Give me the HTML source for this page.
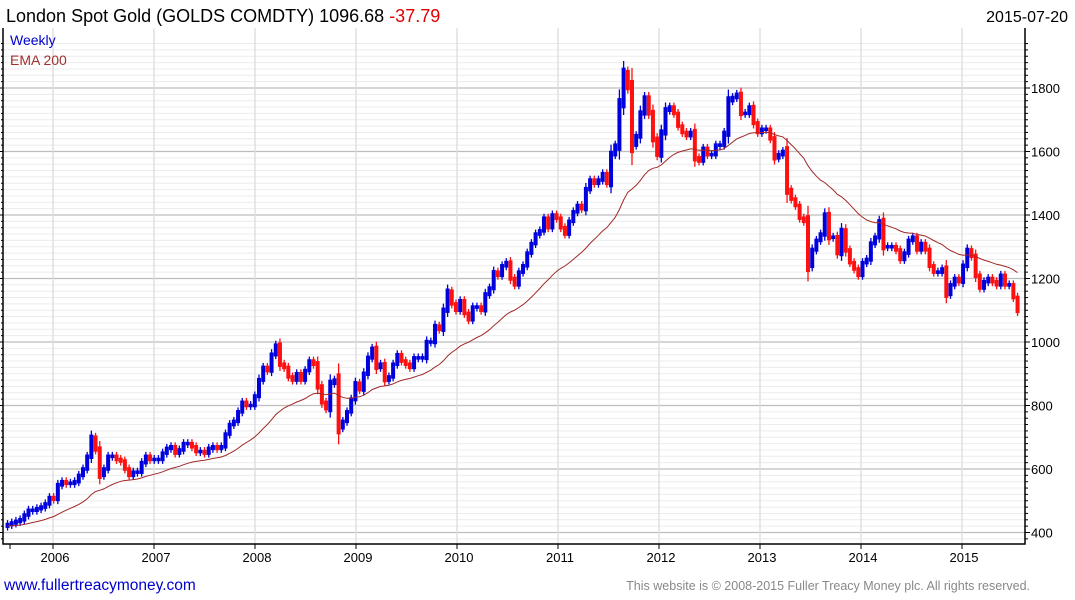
<!DOCTYPE html>
<html><head><meta charset="utf-8"><style>
body{margin:0;background:#fff;width:1075px;height:600px;overflow:hidden;font-family:"Liberation Sans",sans-serif}
svg{position:absolute;left:0;top:0}
</style></head><body>
<svg id="c" width="1075" height="600">
<g id="under"></g>
<text x="6" y="22" font-size="18" fill="#000">London Spot Gold (GOLDS COMDTY) 1096.68 <tspan fill="#e00000">-37.79</tspan></text>
<text x="1068" y="22" font-size="16" text-anchor="end" fill="#000">2015-07-20</text>
<text x="10" y="45" font-size="14" fill="#0000cc">Weekly</text>
<text x="10" y="65" font-size="14" fill="#a03030">EMA 200</text>
<text x="4" y="590" font-size="15.5" fill="#0000cc">www.fullertreacymoney.com</text>
<text x="1030" y="590" font-size="12.5" text-anchor="end" fill="#888">This website is © 2008-2015 Fuller Treacy Money plc. All rights reserved.</text>
</svg>
<script>
const closes=[425,430,435,440,455,470,470,475,480,490,510,505,
550,560,555,555,560,580,600,640,700,660,580,600,640,640,630,625,600,580,590,590,620,640,630,630,
630,650,665,670,650,660,680,680,670,655,655,650,665,670,665,670,710,740,750,780,810,800,800,830,
880,920,910,960,990,930,920,890,880,900,880,910,940,930,860,810,790,870,880,730,750,780,820,870,
850,900,950,980,920,930,880,890,930,960,940,930,920,950,950,950,1000,1000,1050,1040,1100,1160,1120,1100,
1130,1090,1070,1110,1110,1100,1150,1170,1220,1210,1240,1250,1200,1180,1220,1240,1280,1310,1340,1350,1390,1360,1400,1390,
1360,1340,1380,1410,1430,1420,1480,1510,1500,1510,1530,1500,1590,1620,1750,1850,1800,1620,1650,1720,1770,1720,1640,1590,
1660,1730,1740,1720,1680,1660,1650,1660,1580,1570,1610,1590,1590,1620,1620,1660,1760,1770,1780,1720,1720,1740,1690,1660,
1670,1670,1640,1580,1590,1600,1480,1450,1430,1390,1380,1240,1290,1320,1340,1400,1330,1330,1280,1350,1290,1250,1230,1210,
1250,1260,1310,1330,1380,1300,1300,1300,1290,1260,1280,1320,1330,1290,1310,1290,1240,1220,1220,1230,1150,1180,1200,1190,
1240,1290,1270,1210,1170,1190,1200,1190,1180,1210,1180,1180,1140,1097];
const yTicks=[400,600,800,1000,1200,1400,1600,1800];
const years=[2006,2007,2008,2009,2010,2011,2012,2013,2014,2015];
const startT=2005.55, stepT=1/24.1;
const NS="http://www.w3.org/2000/svg", svg=document.getElementById('c'), under=document.getElementById('under');
const X=t=>53+(t-2006)*101, Y=v=>342-(v-1000)*0.3175;
const L=3,R=1025,T=28,B=544;
function el(tag,a,parent){const e=document.createElementNS(NS,tag);for(const k in a)e.setAttribute(k,a[k]);(parent||svg).appendChild(e);return e;}
const grid=el('g',{},under);


for(let v=380;v<=1940;v+=20){const y=Y(v);if(y<T||y>B)continue;const major=v%200===0;
 const ln=el('line',{x1:L,x2:R,y1:y,y2:y,stroke:major?'#bdbdbd':'#ececec','stroke-width':major?1.3:1},grid);
 
 
 el('line',{x1:R,x2:R+(major?5:3),y1:y,y2:y,stroke:'#000'},grid);
 el('line',{x1:L,x2:L-(major?3:2),y1:y,y2:y,stroke:'#000'},grid);}
years.forEach(yr=>{const x=X(yr);
 const ln=el('line',{x1:x,x2:x,y1:T,y2:B,stroke:'#dcdcdc','stroke-width':1.3},grid);
 
 
 el('line',{x1:x,x2:x,y1:B,y2:B+5,stroke:'#000'},grid);
 const tx=el('text',{x:x+2,y:B+18,'font-size':13,'text-anchor':'middle',fill:'#000'},under);tx.textContent=yr;
 
 });
el('line',{x1:10,x2:10,y1:B,y2:B+5,stroke:'#000'},under);
yTicks.forEach(v=>{const tx=el('text',{x:1031,y:Y(v)+5,'font-size':13,fill:'#000'},under);tx.textContent=v;
 
 });
const frame=el('path',{d:`M${L} ${T}V${B}H${R}V${T}`,fill:'none',stroke:'#000','stroke-width':1.5},under);


// EMA
const alpha=2/(28+1);let e=closes[0]-5;const pts=[];
closes.forEach((c,i)=>{e=alpha*c+(1-alpha)*e;pts.push(X(startT+i*stepT).toFixed(1)+','+Y(e).toFixed(1));});
const bars=el('g',{},under);


closes.forEach((c,i)=>{const o=i?closes[i-1]:c-5;const x=X(startT+i*stepT);
 const hi=Math.max(o,c),lo=Math.min(o,c),ext=Math.max((hi-lo)*0.35,14);
 const col=c>=o?'#0000dd':'#ff1010';
 const w=el('line',{x1:x,x2:x,y1:Y(hi+ext),y2:Y(lo-ext),stroke:col,'stroke-width':1.3},bars);
 
 
 const b=el('line',{x1:x,x2:x,y1:Y(hi+ext*0.4),y2:Y(lo-ext*0.4),stroke:col,'stroke-width':4},bars);
 
 });
const ema=el('polyline',{points:pts.join(' '),fill:'none',stroke:'#a02828','stroke-width':1},under);


</script>
</body></html>
